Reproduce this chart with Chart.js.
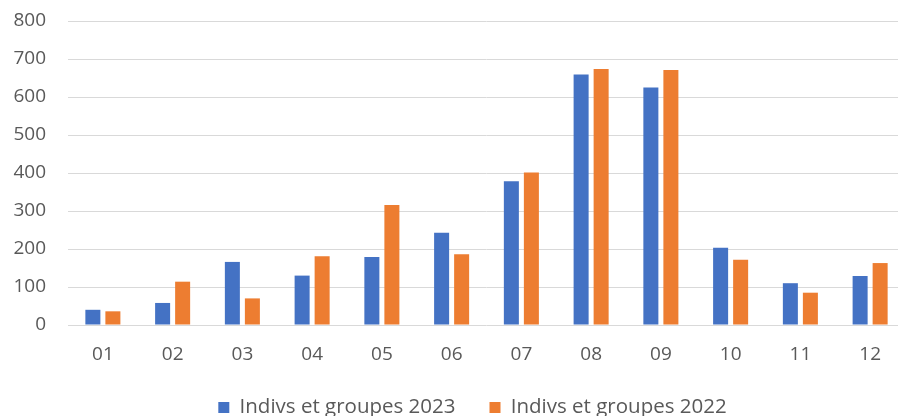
<!DOCTYPE html>
<html>
<head>
<meta charset="utf-8">
<script src="https://cdn.jsdelivr.net/npm/chart.js@4.4.1/dist/chart.umd.min.js"></script>
<style>
  html, body { margin: 0; padding: 0; background: #fff; overflow: hidden; }
  #wrap { width: 905px; height: 416px; }
</style>
</head>
<body>
<div id="wrap"><canvas id="c" width="905" height="416"></canvas></div>
<script>
const months = ["01","02","03","04","05","06","07","08","09","10","11","12"];
const series2023 = [40, 58, 166, 130, 179, 243, 378, 659, 625, 203, 110, 129];
const series2022 = [36, 114, 70, 181, 316, 186, 401, 674, 671, 172, 85, 163];
const seriesNames = ["Indivs et groupes 2023", "Indivs et groupes 2022"];
const yTicks = [0, 100, 200, 300, 400, 500, 600, 700, 800];

const FONT = "'Open Sans', 'Noto Sans', sans-serif";
const GREY = "#595959";
const LEGEND_PAD = 34;
const LEGEND_FONT = 20.5;

const legendTweak = {
  id: 'legendTweak',
  afterInit(chart) {
    const lg = chart.legend;
    if (!lg) return;
    const orig = lg.fit.bind(lg);
    lg.fit = function () { orig(); this.height = 31; };
  },
  afterLayout(chart) {
    const lg = chart.legend;
    if (!lg) return;
    lg.left += 20; lg.right += 20;
    lg.top = 407.5 - LEGEND_PAD - LEGEND_FONT / 2;
    lg.bottom = chart.height;
    lg.height = lg.bottom - lg.top;
  }
};

new Chart(document.getElementById('c'), {
  type: 'bar',
  data: {
    labels: months,
    datasets: [
      { label: seriesNames[0], data: series2023, backgroundColor: '#4472C4', borderWidth: 0,
        barPercentage: 0.75, categoryPercentage: 0.574 },
      { label: seriesNames[1], data: series2022, backgroundColor: '#ED7D31', borderWidth: 0,
        barPercentage: 0.75, categoryPercentage: 0.574 }
    ]
  },
  options: {
    responsive: false,
    animation: false,
    layout: { padding: { top: 21, right: 0, bottom: 0, left: 0 } },
    plugins: {
      tooltip: { enabled: false },
      legend: {
        position: 'bottom',
        labels: {
          boxWidth: 11, boxHeight: 11,
          color: GREY,
          padding: LEGEND_PAD,
          font: { family: FONT, size: LEGEND_FONT }
        }
      }
    },
    scales: {
      x: {
        grid: { display: false, drawTicks: false },
        border: { display: false },
        ticks: { color: GREY, padding: 18.6, font: { family: FONT, size: 19 } }
      },
      y: {
        min: 0, max: 800,
        afterBuildTicks(scale) { scale.ticks = yTicks.map(v => ({ value: v })); },
        afterFit(scale) { scale.width = 68; scale.paddingTop = 0; scale.paddingBottom = 0; },
        grid: { color: '#d9d9d9', lineWidth: 1, drawTicks: false },
        border: { display: false },
        ticks: { color: GREY, padding: 22, font: { family: FONT, size: 19 } }
      }
    }
  },
  plugins: [legendTweak]
});
</script>
</body>
</html>
